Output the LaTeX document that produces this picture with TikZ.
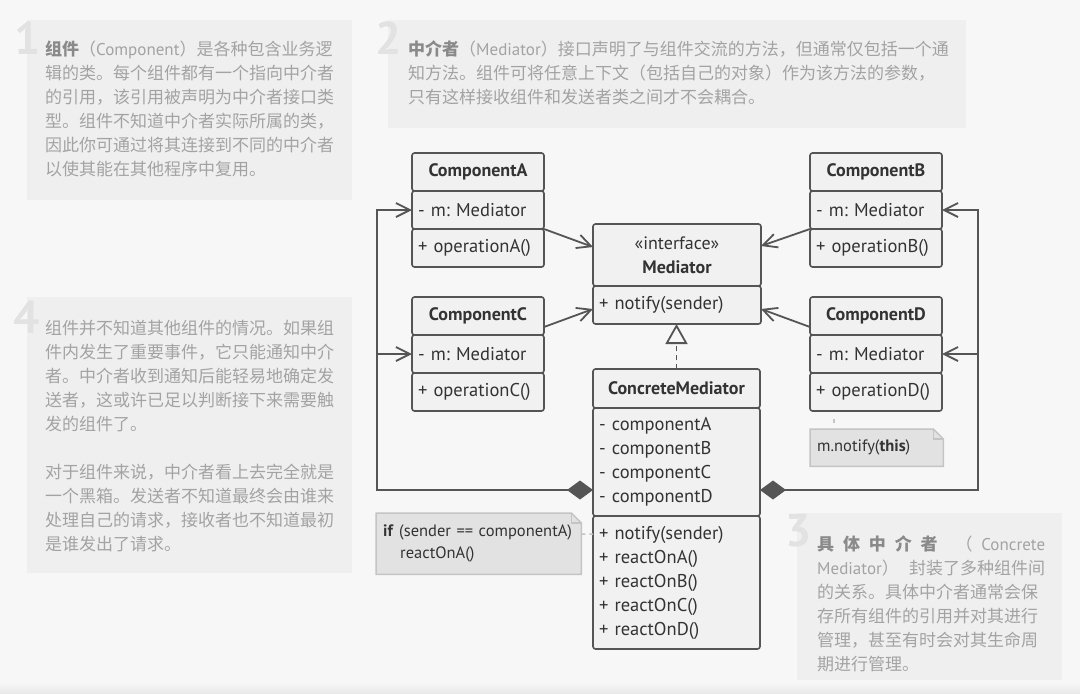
\documentclass[tikz,border=0pt]{standalone}
\usepackage{fontspec}
\setmainfont{PT Sans}
\newfontfamily\cjk{Noto Sans CJK SC}
\usepackage{xcolor}
\usepackage{tikz}
\usetikzlibrary{positioning, arrows.meta}
\frenchspacing

\definecolor{pagebg}{HTML}{F7F7F7}
\definecolor{panelbg}{HTML}{EFEFEF}
\definecolor{numc}{HTML}{E2E2E2}
\definecolor{txtc}{HTML}{A3A3A3}
\definecolor{boldc}{HTML}{8A8A8A}
\definecolor{linec}{HTML}{555555}
\definecolor{boxc}{HTML}{F1F1F1}
\definecolor{umltext}{HTML}{333333}
\definecolor{notec}{HTML}{E2E2E2}
\definecolor{noteline}{HTML}{C4C4C4}

\begin{document}
\begin{tikzpicture}[x=1pt, y=-1pt, node distance=0pt]
            \tikzstyle{part} = [draw=linec, fill=boxc, line width=1.6pt, rounded corners=2.5pt, minimum width=132pt, minimum height=38pt, text width=120pt, inner xsep=6pt, inner ysep=0pt, outer sep=0pt, text=umltext, font=\fontsize{18.5}{24}\selectfont, align=left]
            \tikzstyle{head} = [part, font=\bfseries\fontsize{18}{24}\selectfont, align=center]
            \tikzstyle{num} = [inner sep=0pt, text=numc, font=\bfseries\fontsize{46}{46}\selectfont]
            \tikzstyle{ptext} = [anchor=north west, inner sep=0pt, align=left, text=txtc, font=\cjk\fontsize{17}{24}\selectfont]
            \tikzstyle{note} = [anchor=north west, fill=notec, inner xsep=7pt, inner ysep=0pt, align=left, text=umltext, font=\fontsize{16.5}{22}\selectfont]
            \tikzstyle{assoc} = [draw=linec, line width=1.8pt, -{Straight Barb[length=14pt, width=14pt]}]
            \tikzstyle{aggr} = [draw=linec, line width=1.8pt, {Diamond[length=26pt, width=19pt]}-{Straight Barb[length=14pt, width=14pt]}]
            \tikzstyle{real} = [draw=linec, line width=1.8pt, dash pattern=on 5pt off 4pt, -{Triangle[open, length=20pt, width=22pt]}]
            \tikzstyle{notelink} = [draw=noteline, line width=1.5pt, dash pattern=on 4pt off 4pt]

            \useasboundingbox (0,0) rectangle (1080,694);
            \fill[pagebg] (0,0) rectangle (1080,694);
            \shade[top color=pagebg, bottom color=black!9] (0,682) rectangle (1080,694);

            % text panels
            \fill[panelbg] (27,20) rectangle (352,200);
            \fill[panelbg] (388,20) rectangle (966,128);
            \fill[panelbg] (27,297) rectangle (352,573);
            \fill[panelbg] (797,513) rectangle (1062,680);

            \node [num] (N1) at (28,38) {1};
            \node [num] (N2) at (389,38) {2};
            \node [num] (N4) at (27,317) {4};
            \node [num] (N3) at (799,531) {3};

            \node [ptext] (P1) at (45,41) {{\bfseries\color{boldc}组件}（{\rmfamily Component}）是各种包含业务逻\\
                辑的类。每个组件都有一个指向中介者\\
                的引用，该引用被声明为中介者接口类\\
                型。组件不知道中介者实际所属的类，\\
                因此你可通过将其连接到不同的中介者\\
                以使其能在其他程序中复用。};
            \node [ptext] (P2) at (408,40) {{\bfseries\color{boldc}中介者}（{\rmfamily Mediator}）接口声明了与组件交流的方法，但通常仅包括一个通\\
                知方法。组件可将任意上下文（包括自己的对象）作为该方法的参数，\\
                只有这样接收组件和发送者类之间才不会耦合。};
            \node [ptext] (P4) at (45,320) {组件并不知道其他组件的情况。如果组\\
                件内发生了重要事件，它只能通知中介\\
                者。中介者收到通知后能轻易地确定发\\
                送者，这或许已足以判断接下来需要触\\
                发的组件了。\\[24pt]
                对于组件来说，中介者看上去完全就是\\
                一个黑箱。发送者不知道最终会由谁来\\
                处理自己的请求，接收者也不知道最初\\
                是谁发出了请求。};
            \node [ptext] (P3) at (817,535) {\hbox to 228pt{\color{boldc}\bfseries 具\hfill 体\hfill 中\hfill 介\hfill 者\hfill\hfill\mdseries\color{txtc}（\hfill{\rmfamily Concrete}}\\
                \hbox to 228pt{{\rmfamily Mediator}）\hfill 封装了多种组件间}\\
                的关系。具体中介者通常会保\\
                存所有组件的引用并对其进行\\
                管理，甚至有时会对其生命周\\
                期进行管理。};

            % components
            \node [head, anchor=north west] (Ahead) at (412,153) {ComponentA};
            \node [part, below = of Ahead] (Aattr) {- m: Mediator};
            \node [part, below = of Aattr] (Aops) {+ operationA()};

            \node [head, anchor=north west] (Chead) at (412,297) {ComponentC};
            \node [part, below = of Chead] (Cattr) {- m: Mediator};
            \node [part, below = of Cattr] (Cops) {+ operationC()};

            \node [head, anchor=north west] (Bhead) at (810,153) {ComponentB};
            \node [part, below = of Bhead] (Battr) {- m: Mediator};
            \node [part, below = of Battr] (Bops) {+ operationB()};

            \node [head, anchor=north west] (Dhead) at (810,297) {ComponentD};
            \node [part, below = of Dhead] (Dattr) {- m: Mediator};
            \node [part, below = of Dattr] (Dops) {+ operationD()};

            % mediators
            \node [head, anchor=north west, minimum width=168pt, text width=156pt, minimum height=62pt] (Mhead) at (593,224) {{\mdseries «interface»}\\Mediator};
            \node [part, below = of Mhead, minimum width=168pt, text width=156pt] (Mops) {+ notify(sender)};

            \node [head, anchor=north west, minimum width=167pt, text width=155pt, minimum height=39pt] (CMhead) at (593,369) {ConcreteMediator};
            \node [part, below = of CMhead, minimum width=167pt, text width=155pt, minimum height=108pt] (CMattr) {- componentA\\- componentB\\- componentC\\- componentD};
            \node [part, below = of CMattr, minimum width=167pt, text width=155pt, minimum height=133pt] (CMops) {+ notify(sender)\\+ reactOnA()\\+ reactOnB()\\+ reactOnC()\\+ reactOnD()};

            % notes
            \node [note, minimum width=133pt, text width=119pt, minimum height=37pt] (Nnotify) at (810,429) {m.notify(\textbf{this})};
            \node [note, minimum width=205pt, text width=191pt, minimum height=61pt] (Nif) at (376,513) {\textbf{if} (sender == componentA)\\\hspace*{17pt}reactOnA()};
            \foreach \n in {Nnotify, Nif} {
                \fill [pagebg] ([xshift=-10pt]\n.north east) -- (\n.north east) -- ([yshift=-10pt]\n.north east) -- cycle;
                \draw [noteline, line width=1.5pt] (\n.north west) -- ([xshift=-10pt]\n.north east) -- ([yshift=-10pt]\n.north east) -- (\n.south east) -- (\n.south west) -- cycle;
                \draw [noteline, line width=1.5pt] ([xshift=-10pt]\n.north east) |- ([yshift=-10pt]\n.north east);
            }
            \coordinate (Ntop) at ([xshift=24pt]Nnotify.north west);
            \draw [notelink, dash pattern=on 0pt off 6pt on 4pt off 20pt] (Ntop) -- (Ntop |- Dops.south);
            \draw [notelink] ([yshift=9.5pt]Nif.east) -- ([yshift=48.5pt]CMops.west);

            % connectors
            \draw [assoc] (Aattr.south east) to ([yshift=8pt]Mhead.west);
            \draw [assoc] ([yshift=8pt]Chead.south east) to ([yshift=-4pt]Mops.west);
            \draw [assoc] (Battr.south west) to ([yshift=9pt]Mhead.east);
            \draw [assoc] ([yshift=8pt]Dhead.south west) to ([yshift=-4pt]Mops.east);
            \draw [real] (CMhead.north) to (CMhead.north |- Mops.south);

            \coordinate (Lbus) at (377,490);
            \coordinate (Rbus) at (978,490);
            \draw [aggr] ([yshift=-28pt]CMattr.west) -- (Lbus) |- (Aattr.west);
            \draw [assoc] (Lbus |- Cattr.west) -- (Cattr.west);
            \draw [aggr] ([yshift=-28pt]CMattr.east) -- (Rbus) |- (Battr.east);
            \draw [assoc] (Rbus |- Dattr.east) -- (Dattr.east);
        \end{tikzpicture}
\end{document}
